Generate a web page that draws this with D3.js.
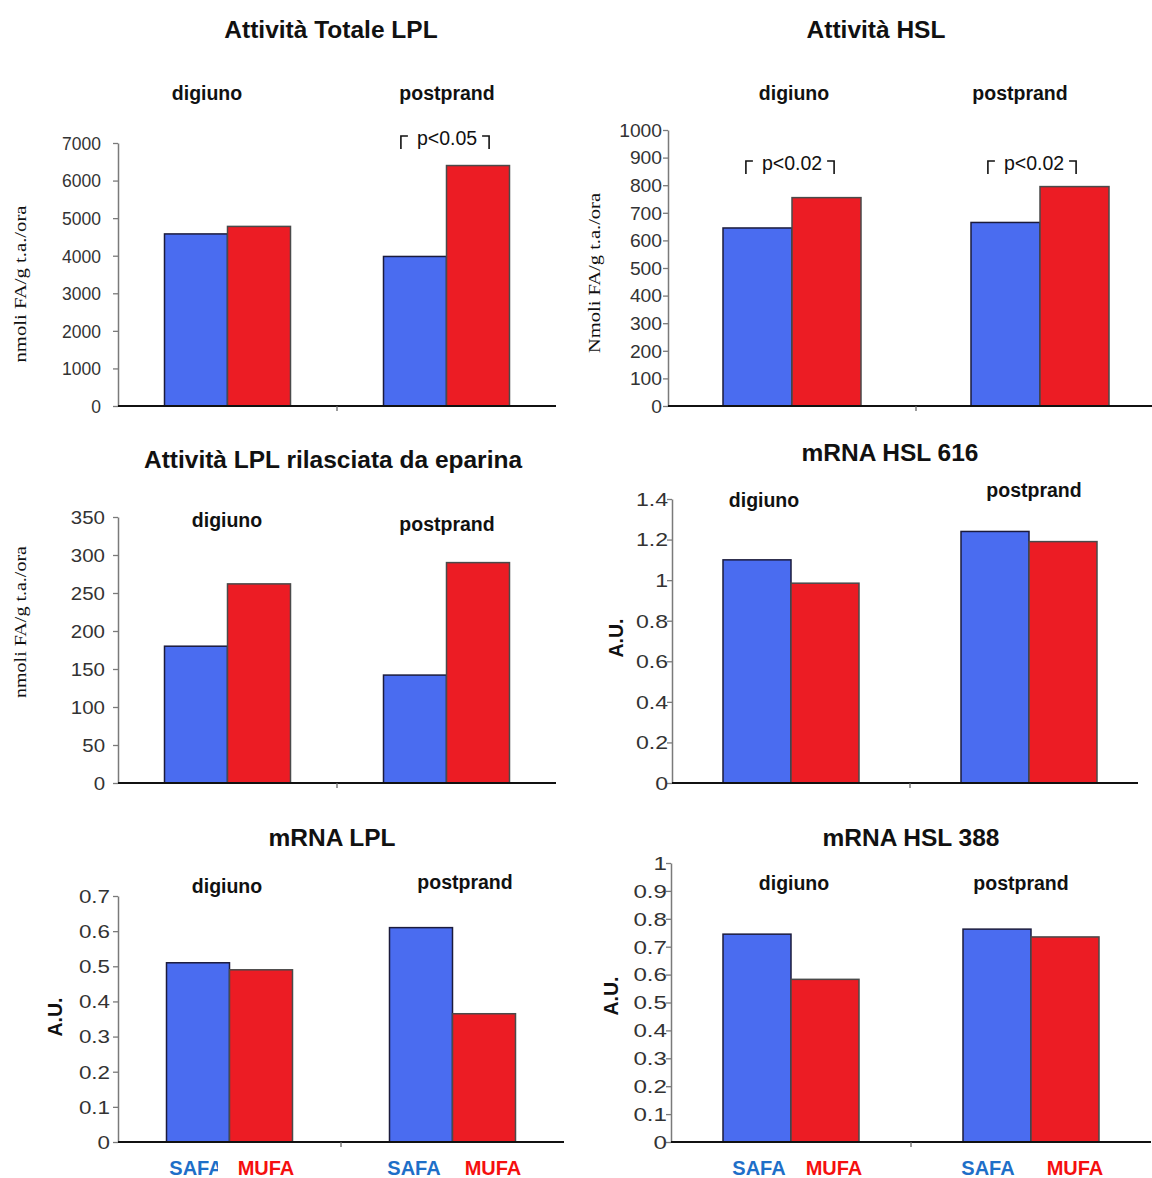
<!DOCTYPE html>
<html>
<head>
<meta charset="utf-8">
<script src="https://cdn.jsdelivr.net/npm/d3@7"></script>
<style>
  html, body { margin: 0; padding: 0; background: #fff; }
  svg { display: block; }
</style>
</head>
<body>
<svg id="chart" width="1152" height="1178"></svg>
<script>
// ---------- DATA ----------
const groups = ["digiuno", "postprand"];
const series = ["SAFA", "MUFA"];

const lplTotSAFA = [4580, 3980];
const lplTotMUFA = [4780, 6400];
const hslSAFA = [645, 665];
const hslMUFA = [755, 795];
const lplEpSAFA = [180, 142];
const lplEpMUFA = [262, 290];
const mHsl616SAFA = [1.10, 1.24];
const mHsl616MUFA = [0.985, 1.19];
const mLplSAFA = [0.51, 0.61];
const mLplMUFA = [0.49, 0.365];
const mHsl388SAFA = [0.745, 0.763];
const mHsl388MUFA = [0.583, 0.735];

const ticksLplTot = [0, 1000, 2000, 3000, 4000, 5000, 6000, 7000];
const ticksHsl = [0, 100, 200, 300, 400, 500, 600, 700, 800, 900, 1000];
const ticksLplEp = [0, 50, 100, 150, 200, 250, 300, 350];
const ticksHsl616 = [0, 0.2, 0.4, 0.6, 0.8, 1, 1.2, 1.4];
const ticksLpl = [0, 0.1, 0.2, 0.3, 0.4, 0.5, 0.6, 0.7];
const ticksHsl388 = [0, 0.1, 0.2, 0.3, 0.4, 0.5, 0.6, 0.7, 0.8, 0.9, 1];

const titles = ["Attività Totale LPL", "Attività HSL", "Attività LPL rilasciata da eparina",
                "mRNA HSL 616", "mRNA LPL", "mRNA HSL 388"];
const yTitles = ["nmoli FA/g t.a./ora", "Nmoli FA/g t.a./ora", "nmoli FA/g t.a./ora", "A.U.", "A.U.", "A.U."];
const sigLplTot = [null, "p<0.05"];
const sigHsl = ["p<0.02", "p<0.02"];

// ---------- LAYOUT (positions / styles) ----------
const colors = { SAFA: "#4a6cf0", MUFA: "#ec1c24" };
const strokes = { SAFA: "#1b1b3c", MUFA: "#4a4a4a" };
const labelColors = { SAFA: "#1e6fc8", MUFA: "#f50f0f" };

const panels = [
  { title: titles[0], tx: 331, ty: 38, yTitle: yTitles[0], serif: true, ytx: 20, yty: 284, ytLen: 157,
    safa: lplTotSAFA, mufa: lplTotMUFA, ticks: ticksLplTot, fmt: d3.format("d"),
    ax: 118, band: 219, barW: 63, y0: 406, y1: 143, tickEnd: 101, tsx: 1.0,
    sub: [{x: 207, y: 100}, {x: 447, y: 100}], sig: sigLplTot, sigY: 145, sigCx: [0, 447] },
  { title: titles[1], tx: 876, ty: 38, yTitle: yTitles[1], serif: true, ytx: 594, yty: 273, ytLen: 160,
    safa: hslSAFA, mufa: hslMUFA, ticks: ticksHsl, fmt: d3.format("d"),
    ax: 668, band: 248, barW: 69, y0: 406, y1: 130, tickEnd: 662, tsx: 1.1,
    sub: [{x: 794, y: 100}, {x: 1020, y: 100}], sig: sigHsl, sigY: 170, sigCx: [792, 1034] },
  { title: titles[2], tx: 333, ty: 468, yTitle: yTitles[2], serif: true, ytx: 20, yty: 622, ytLen: 152,
    safa: lplEpSAFA, mufa: lplEpMUFA, ticks: ticksLplEp, fmt: d3.format("d"),
    ax: 118, band: 219, barW: 63, y0: 783, y1: 517, tickEnd: 105, tsx: 1.17,
    sub: [{x: 227, y: 527}, {x: 447, y: 531}] },
  { title: titles[3], tx: 890, ty: 461, yTitle: yTitles[3], serif: false, ytx: 616, yty: 638,
    safa: mHsl616SAFA, mufa: mHsl616MUFA, ticks: ticksHsl616, fmt: d => d3.format("~g")(d),
    ax: 672, band: 238, barW: 68, y0: 783, y1: 499, tickEnd: 668, tsx: 1.32, axEnd: 1138,
    sub: [{x: 764, y: 507}, {x: 1034, y: 497}] },
  { title: titles[4], tx: 332, ty: 846, yTitle: yTitles[4], serif: false, ytx: 55, yty: 1017,
    safa: mLplSAFA, mufa: mLplMUFA, ticks: ticksLpl, fmt: d => d3.format("~g")(d),
    ax: 118, band: 223, barW: 63, y0: 1142, y1: 896, tickEnd: 110, tsx: 1.28,
    sub: [{x: 227, y: 893}, {x: 465, y: 889}], labels: true, clipFirst: 218,
    lshift: [[-2, 5], [-7, 9]] },
  { title: titles[5], tx: 911, ty: 846, yTitle: yTitles[5], serif: false, ytx: 611, yty: 996,
    safa: mHsl388SAFA, mufa: mHsl388MUFA, ticks: ticksHsl388, fmt: d => d3.format("~g")(d),
    ax: 671, band: 240, barW: 68, y0: 1142, y1: 863, tickEnd: 667, tsx: 1.38,
    sub: [{x: 794, y: 890}, {x: 1021, y: 890}], labels: true,
    lshift: [[2, 9], [-9, 10]] }
];

const svg = d3.select("#chart");
const defs = svg.append("defs");
const SANS = "'Liberation Sans', Arial, Helvetica, sans-serif";
const SERIF = "'Liberation Serif', 'Times New Roman', serif";

panels.forEach((p, pi) => {
  const g = svg.append("g");
  const maxV = p.ticks[p.ticks.length - 1];
  const y = d3.scaleLinear().domain([0, maxV]).range([p.y0, p.y1]);
  const x = d3.scaleBand().domain(groups).range([p.ax, p.ax + 2 * p.band]).paddingInner(0).paddingOuter(0);
  const xs = d3.scaleBand().domain(series).range([0, 2 * p.barW]);

  const rows = groups.map((grp, i) => ({ grp, vals: [
    { s: "SAFA", v: p.safa[i] }, { s: "MUFA", v: p.mufa[i] } ] }));

  // Title
  g.append("text").attr("x", p.tx).attr("y", p.ty).attr("text-anchor", "middle")
    .attr("font-family", SANS).attr("font-weight", "bold").attr("font-size", 24.5)
    .attr("fill", "#111").text(p.title);

  // Subtitles
  groups.forEach((grp, i) => {
    g.append("text").attr("x", p.sub[i].x).attr("y", p.sub[i].y).attr("text-anchor", "middle")
      .attr("font-family", SANS).attr("font-weight", "bold").attr("font-size", 19.5)
      .attr("fill", "#111").text(grp);
  });

  // Bars
  const gx = (grp) => x(grp) + x.bandwidth() / 2 - p.barW;
  rows.forEach(r => {
    g.selectAll(null).data(r.vals).enter().append("rect")
      .attr("x", d => gx(r.grp) + xs(d.s))
      .attr("y", d => y(d.v))
      .attr("width", xs.bandwidth())
      .attr("height", d => y(0) - y(d.v))
      .attr("fill", d => colors[d.s])
      .attr("stroke", d => strokes[d.s])
      .attr("stroke-width", 1.5);
  });

  // Y axis
  const yAxis = d3.axisLeft(y).tickValues(p.ticks).tickFormat(p.fmt).tickSize(5).tickSizeOuter(0);
  const ya = g.append("g").attr("transform", `translate(${p.ax},0)`).call(yAxis);
  ya.select(".domain").attr("stroke", "#7a7a7a").attr("stroke-width", 1.5);
  ya.selectAll(".tick line").attr("stroke", "#7a7a7a").attr("stroke-width", 1.3);
  ya.selectAll(".tick text")
    .attr("font-family", SANS).attr("font-size", 17.5).attr("fill", "#333")
    .attr("x", (p.tickEnd - p.ax) / p.tsx)
    .attr("transform", `scale(${p.tsx},1)`)
    .attr("dy", "0.36em");

  // X axis (baseline)
  const axEnd = p.axEnd || x.range()[1];
  g.append("line").attr("x1", p.ax).attr("x2", Math.min(axEnd, 1152))
    .attr("y1", y(0)).attr("y2", y(0)).attr("stroke", "#111").attr("stroke-width", 2);
  g.append("line").attr("x1", x(groups[1])).attr("x2", x(groups[1]))
    .attr("y1", y(0)).attr("y2", y(0) + 5).attr("stroke", "#666").attr("stroke-width", 1.3);

  // Y title
  const yt = g.append("text")
    .attr("transform", `translate(${p.ytx},${p.yty}) rotate(-90)`)
    .attr("text-anchor", "middle").attr("dy", "0.35em")
    .attr("fill", "#111");
  if (p.serif) {
    yt.attr("font-family", SERIF).attr("font-size", 17.5)
      .attr("textLength", p.ytLen).attr("lengthAdjust", "spacingAndGlyphs");
  } else {
    yt.attr("font-family", SANS).attr("font-weight", "bold").attr("font-size", 19.5);
  }
  yt.text(p.yTitle);

  // Significance brackets
  if (p.sig) {
    p.sig.forEach((s, i) => {
      if (!s) return;
      const cx = p.sigCx[i];
      const t = g.append("text").attr("x", cx).attr("y", p.sigY).attr("text-anchor", "middle")
        .attr("font-family", SANS).attr("font-size", 19.5).attr("fill", "#111").text(s);
      const w = t.node().getComputedTextLength();
      const l = cx - w / 2 - 16, r = cx + w / 2 + 12;
      const top = p.sigY - 9, bot = p.sigY + 4;
      g.append("path").attr("d", `M${l},${bot}V${top}H${l + 7}`)
        .attr("fill", "none").attr("stroke", "#111").attr("stroke-width", 1.6);
      g.append("path").attr("d", `M${r - 7},${top}H${r}V${bot}`)
        .attr("fill", "none").attr("stroke", "#111").attr("stroke-width", 1.6);
    });
  }

  // Series labels under bars
  if (p.labels) {
    let clipId = null;
    if (p.clipFirst) {
      clipId = "clip" + pi;
      defs.append("clipPath").attr("id", clipId).append("rect")
        .attr("x", 0).attr("y", 1150).attr("width", p.clipFirst).attr("height", 40);
    }
    rows.forEach((r, gi) => {
      r.vals.forEach((d, si) => {
        const t = g.append("text")
          .attr("x", gx(r.grp) + xs(d.s) + xs.bandwidth() / 2 + p.lshift[gi][si])
          .attr("y", 1175).attr("text-anchor", "middle")
          .attr("font-family", SANS).attr("font-weight", "bold").attr("font-size", 20)
          .attr("fill", labelColors[d.s]).text(d.s);
        if (clipId && gi === 0 && d.s === "SAFA") t.attr("clip-path", `url(#${clipId})`);
      });
    });
  }
});
</script>
</body>
</html>
